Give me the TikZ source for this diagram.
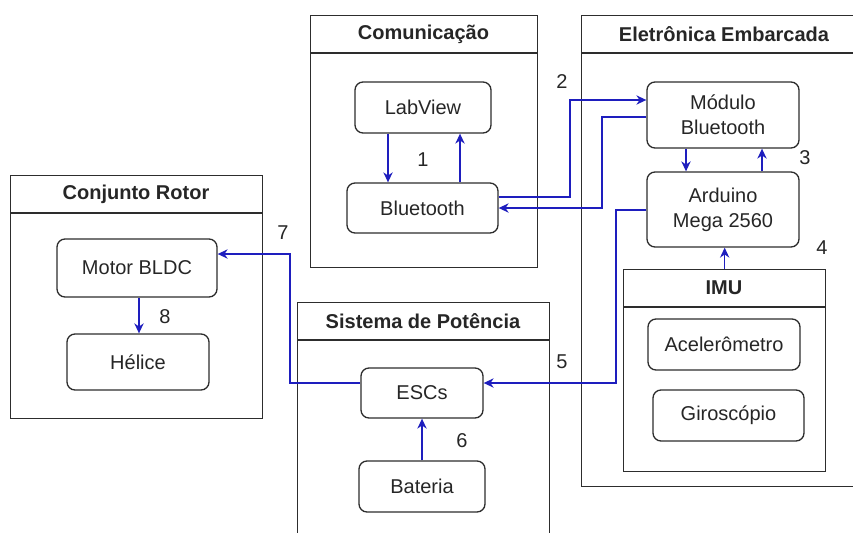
\documentclass[tikz,border=0pt]{standalone}
\usepackage{fontspec}
\setmainfont{Liberation Sans}
\usepackage{tikz}
\usetikzlibrary{
	arrows.meta, positioning, calc
}
\definecolor{linkblue}   {RGB}{30,  30,  190}
\definecolor{framegray}  {RGB}{45,  45,   45}

\begin{document}
\begin{tikzpicture}[x=0.75pt, y=-0.75pt,
		every node/.style={font=\fontsize{15}{18.75}\selectfont, text=black!85},
		group/.style={draw=framegray, line width=1pt, anchor=north west, inner sep=0pt},
		block/.style={draw=framegray, line width=1pt, rounded corners=6pt, align=center, inner sep=0pt},
		title/.style={font=\fontsize{15}{18.75}\selectfont\bfseries},
		link/.style={draw=linkblue, line width=0.9pt, -{Stealth[length=7.5pt,width=7pt]}}]
				\clip (0,0) rectangle (853,532);
				% grupos
				\node[group, minimum width=170.25pt, minimum height=189pt] (com) at (310,15) {};
				\draw[framegray, line width=1pt] (com.north west) ++(0,38) -- ++(227,0);
				\node[title] (comT) at (423.5,34) {Comunicação};
				\node[group, minimum width=209.25pt, minimum height=353.25pt] (ele) at (581,15) {};
				\draw[framegray, line width=1pt] (ele.north west) ++(0,38) -- ++(279,0);
				\node[title] (eleT) at (724,34) {Eletrônica Embarcada};
				\node[group, minimum width=151.5pt, minimum height=151.5pt] (imu) at (623,269) {};
				\draw[framegray, line width=1pt] (imu.north west) ++(0,38) -- ++(202,0);
				\node[title] (imuT) at (724,288) {IMU};
				\node[group, minimum width=189pt, minimum height=180pt] (pot) at (297,302) {};
				\draw[framegray, line width=1pt] (pot.north west) ++(0,38) -- ++(252,0);
				\node[title] (potT) at (423,321) {Sistema de Potência};
				\node[group, minimum width=189pt, minimum height=182.25pt] (rotor) at (10,175) {};
				\draw[framegray, line width=1pt] (rotor.north west) ++(0,38) -- ++(252,0);
				\node[title] (rotorT) at (136,194) {Conjunto Rotor};
				% blocos
				\node[block, minimum width=102pt, minimum height=38.25pt] (lab) at (423,107.5) {LabView};
				\node[block, minimum width=113.25pt, minimum height=37.5pt] (bt) at (422.5,208) {Bluetooth};
				\node[block, minimum width=114pt, minimum height=49.5pt] (mod) at (723,115) {Módulo\\Bluetooth};
				\node[block, minimum width=114pt, minimum height=56.25pt] (ard) at (723,209.5) {Arduino\\Mega 2560};
				\node[block, minimum width=114pt, minimum height=38.25pt] (acel) at (724,344.5) {Acelerômetro};
				\node[block, minimum width=113.25pt, minimum height=38.25pt] (giro) at (728.5,415.5) {Giroscópio};
				\node[block, minimum width=91.5pt, minimum height=37.5pt] (esc) at (422,393) {ESCs};
				\node[block, minimum width=94.5pt, minimum height=38.25pt] (bat) at (422,486.5) {Bateria};
				\node[block, minimum width=120pt, minimum height=43.5pt] (motor) at (137,268) {Motor BLDC};
				\node[block, minimum width=106.5pt, minimum height=42pt] (helice) at (138,362) {Hélice};
				% ligacoes
				\draw[link] (lab.south -| 388,0) -- (bt.north -| 388,0);
				\draw[link] (bt.north -| 460,0) -- (lab.south -| 460,0);
				\draw[link] (bt.east |- 0,197) -| (570,100) -- (mod.west |- 0,100);
				\draw[link] (mod.west |- 0,117) -| (602,208) -- (bt.east);
				\draw[link] (mod.south -| 686,0) -- (ard.north -| 686,0);
				\draw[link] (ard.north -| 762,0) -- (mod.south -| 762,0);
				\draw[link] (imu.north) -- (imu.north |- ard.south);
				\draw[link] (ard.west |- 0,210) -| (616,383) -- (esc.east |- 0,383);
				\draw[link] (bat.north) -- (esc.south);
				\draw[link] (esc.west |- 0,383) -| (290,254) -- (motor.east |- 0,254);
				\draw[link] (motor.south -| 139,0) -- (helice.north -| 139,0);
				% numeros
				\node (lbl1) at (423,160) {1};
				\node (lbl2) at (562,82) {2};
				\node (lbl3) at (805,158) {3};
				\node (lbl4) at (822,248) {4};
				\node (lbl5) at (562,362) {5};
				\node (lbl6) at (462,441) {6};
				\node (lbl7) at (283,233) {7};
				\node (lbl8) at (165,317) {8};
			\end{tikzpicture}
\end{document}
